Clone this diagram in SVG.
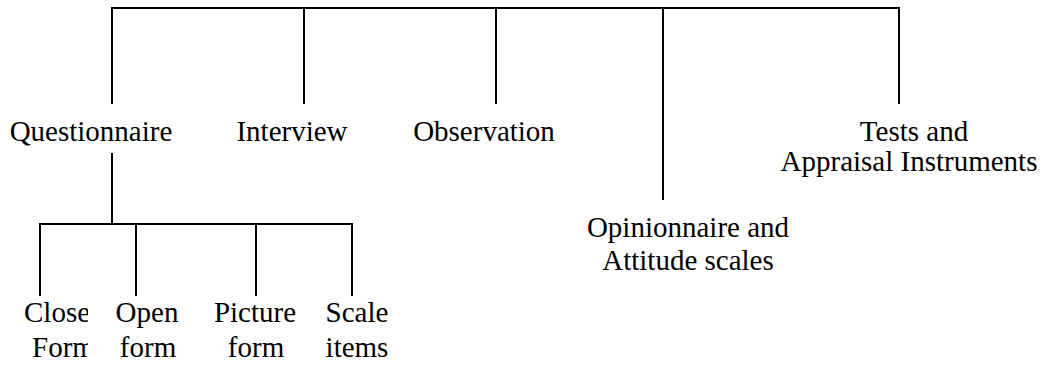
<svg xmlns="http://www.w3.org/2000/svg" width="1049" height="368" viewBox="0 0 1049 368">
  <style>
    .lbl { font-family: "Liberation Serif", "Times New Roman", serif; font-size: 29px; fill: #000; }
    .mid { text-anchor: middle; }
    .wire { stroke: #000; stroke-width: 2; fill: none; stroke-linecap: butt; }
  </style>
  <defs>
    <clipPath id="clip-close">
      <rect x="0" y="290" width="88" height="78"/>
    </clipPath>
  </defs>
  <rect width="1049" height="368" fill="#fff"/>

  <!-- tree connectors -->
  <g id="connectors" class="wire">
    <path d="M112 104 V8 H899 V104"/>
    <path d="M304 8 V104"/>
    <path d="M496 8 V104"/>
    <path d="M663 8 V200"/>
    <path d="M112 153 V224"/>
    <path d="M40 296 V224 H352 V296"/>
    <path d="M136 224 V296"/>
    <path d="M256 224 V296"/>
  </g>

  <!-- first level -->
  <g id="questionnaire"><text class="lbl mid" x="91" y="141">Questionnaire</text></g>
  <g id="interview"><text class="lbl mid" x="292" y="141">Interview</text></g>
  <g id="observation"><text class="lbl mid" x="484" y="141">Observation</text></g>
  <g id="opinionnaire">
    <text class="lbl mid" x="688" y="237">Opinionnaire and</text>
    <text class="lbl mid" x="688" y="270">Attitude scales</text>
  </g>
  <g id="tests">
    <text class="lbl mid" x="914" y="141">Tests and</text>
    <text class="lbl mid" x="909" y="171">Appraisal Instruments</text>
  </g>

  <!-- questionnaire forms -->
  <g id="close-form" clip-path="url(#clip-close)">
    <text class="lbl" x="24" y="322">Close</text>
    <text class="lbl" x="32" y="357">Form</text>
  </g>
  <g id="open-form">
    <text class="lbl mid" x="147" y="322">Open</text>
    <text class="lbl mid" x="148" y="357">form</text>
  </g>
  <g id="picture-form">
    <text class="lbl mid" x="255" y="322">Picture</text>
    <text class="lbl mid" x="256" y="357">form</text>
  </g>
  <g id="scale-items">
    <text class="lbl mid" x="357" y="322">Scale</text>
    <text class="lbl mid" x="357" y="357">items</text>
  </g>
</svg>
